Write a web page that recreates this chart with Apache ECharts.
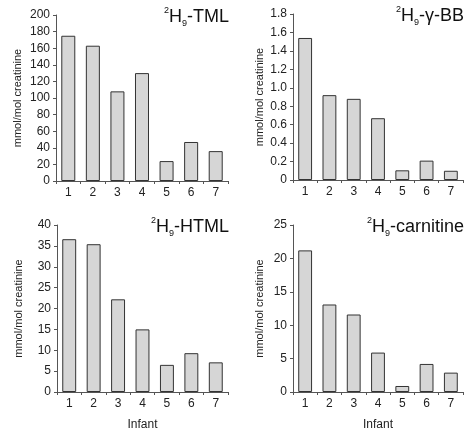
<!DOCTYPE html>
<html>
<head>
<meta charset="utf-8">
<script src="https://cdn.jsdelivr.net/npm/echarts@6/dist/echarts.min.js"></script>
<style>
  html, body { margin: 0; padding: 0; background: #fff; }
  #main { width: 469px; height: 432px; }
</style>
</head>
<body>
<div id="main"></div>
<script>
// infants on the x axis
const infants = ['1', '2', '3', '4', '5', '6', '7'];

// values per panel, mmol/mol creatinine
const tmlValues = [175, 163, 108, 130, 24, 47, 36];
const bbValues = [1.54, 0.92, 0.88, 0.67, 0.105, 0.21, 0.1];
const htmlValues = [36.6, 35.4, 22.2, 15.0, 6.5, 9.3, 7.1];
const carnitineValues = [21.2, 13.1, 11.6, 5.9, 0.9, 4.2, 2.9];

// panel titles, the part after ²H₉
const panelNames = ['-TML', '-γ-BB', '-HTML', '-carnitine'];
const yTitle = 'mmol/mol creatinine';
const xTitle = 'Infant';

const FONT = 'Liberation Sans, Arial, sans-serif';
const chart = echarts.init(document.getElementById('main'));

// grid boxes, roughly where the axes sit in the figure
const grids = [
    { left: 56, top: 15, width: 172, height: 166 },
    { left: 293, top: 14, width: 170, height: 166 },
    { left: 57, top: 225, width: 171, height: 167 },
    { left: 293, top: 225, width: 170, height: 167 }
];
const yRanges = [[200, 20], [1.8, 0.2], [40, 5], [25, 5]];
const nameGaps = [33, 28, 33, 28];

function titleText(name) {
    return '{sup|2}{b|H}{sub|9}{b|' + name + '}';
}

const titleRich = {
    b: { fontSize: 18, fontWeight: 'normal', fontFamily: FONT, color: '#111', lineHeight: 22 },
    sup: { fontSize: 9, fontWeight: 'normal', fontFamily: FONT, color: '#111', verticalAlign: 'top', lineHeight: 22, padding: [0, 0, 8, 0] },
    sub: { fontSize: 9, fontWeight: 'normal', fontFamily: FONT, color: '#111', verticalAlign: 'bottom', lineHeight: 22, padding: [6, 0, 0, 0] }
};

const option = {
    backgroundColor: '#fff',
    animation: false,
    title: grids.map((g, i) => ({
        text: titleText(panelNames[i]),
        right: 469 - (g.left + g.width) - 1,
        top: g.top - 9,
        padding: 0,
        textStyle: { fontWeight: 'normal', rich: titleRich }
    })),
    grid: grids.map(g => Object.assign({ containLabel: false }, g)),
    xAxis: grids.map((g, i) => ({
        type: 'category',
        gridIndex: i,
        data: infants,
        name: i >= 2 ? xTitle : '',
        nameLocation: 'middle',
        nameGap: 27,
        nameTextStyle: { fontSize: 12, fontFamily: FONT, color: '#222' },
        axisLine: { lineStyle: { color: '#555', width: 1 } },
        axisTick: { show: true, length: 3, lineStyle: { color: '#555' } },
        axisLabel: { fontSize: 12, fontFamily: FONT, color: '#222', margin: 6 }
    })),
    yAxis: grids.map((g, i) => ({
        type: 'value',
        gridIndex: i,
        min: 0,
        max: yRanges[i][0],
        interval: yRanges[i][1],
        name: yTitle,
        nameLocation: 'middle',
        nameRotate: 90,
        nameGap: nameGaps[i],
        nameTextStyle: { fontSize: 11, fontFamily: FONT, color: '#222' },
        splitLine: { show: false },
        axisLine: { show: true, lineStyle: { color: '#555', width: 1 } },
        axisTick: { show: true, length: 3, lineStyle: { color: '#555' } },
        axisLabel: {
            fontSize: 12, fontFamily: FONT, color: '#222', margin: 6,
            formatter: v => (i === 1 && v !== 0 ? v.toFixed(1) : String(Math.round(v * 10) / 10))
        }
    })),
    series: [tmlValues, bbValues, htmlValues, carnitineValues].map((vals, i) => ({
        type: 'bar',
        xAxisIndex: i,
        yAxisIndex: i,
        data: vals,
        barWidth: '57%',
        itemStyle: {
            color: '#d6d6d6',
            borderColor: '#333',
            borderWidth: 1
        }
    }))
};

chart.setOption(option);
</script>
</body>
</html>
